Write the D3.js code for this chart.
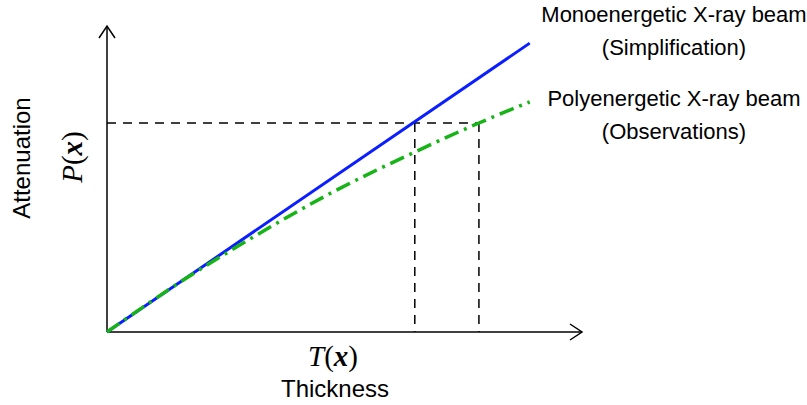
<!DOCTYPE html>
<html>
<head>
<meta charset="utf-8">
<script src="https://cdn.jsdelivr.net/npm/d3@7"></script>
<style>
  body { margin: 0; background: #fff; }
  text { font-family: "Liberation Sans", Arial, sans-serif; fill: #000; }
  .math { font-family: "Liberation Serif", "DejaVu Serif", serif; font-style: italic; }
</style>
</head>
<body>
<svg id="canvas"></svg>
<script>
let width = 807;
let height = 405;

// abstract units, 0..100 on both axes
let monoX = [0, 89];
let monoY = [0, 94.4];
let polyX = [0, 15.4, 30.1, 48.0, 64.8, 78.3, 89];
let polyY = [0, 16.3, 30.4, 46.1, 58.8, 68.3, 75.2];
let levelY = 68.3;
let markX = [64.8, 78.3];

let canvas = d3.select('#canvas')
    .attr('width', width)
    .attr('height', height);

let xScale = d3.scaleLinear().domain([0, 100]).range([107, 582]);
let yScale = d3.scaleLinear().domain([0, 100]).range([332, 26]);

let line = d3.line()
    .x(d => xScale(d[0]))
    .y(d => yScale(d[1]));

// axes with open arrow heads
let drawAxes = () => {
    let ox = xScale(0), oy = yScale(0);
    let ax = xScale(100), ay = yScale(100);
    canvas.append('line')
        .attr('x1', ox).attr('y1', oy).attr('x2', ax).attr('y2', oy)
        .attr('stroke', '#000').attr('stroke-width', 1.5);
    canvas.append('line')
        .attr('x1', ox).attr('y1', oy).attr('x2', ox).attr('y2', ay)
        .attr('stroke', '#000').attr('stroke-width', 1.5);
    canvas.append('path')
        .attr('d', `M${ax - 12},${oy - 8} L${ax},${oy} L${ax - 12},${oy + 8}`)
        .attr('fill', 'none').attr('stroke', '#000').attr('stroke-width', 1.5);
    canvas.append('path')
        .attr('d', `M${ox - 8},${ay + 12} L${ox},${ay} L${ox + 8},${ay + 12}`)
        .attr('fill', 'none').attr('stroke', '#000').attr('stroke-width', 1.5);
};

let drawGuides = () => {
    canvas.append('line')
        .attr('x1', xScale(0)).attr('x2', xScale(d3.max(markX)))
        .attr('y1', yScale(levelY)).attr('y2', yScale(levelY))
        .attr('stroke', '#000').attr('stroke-width', 1.5)
        .attr('stroke-dasharray', '9,7');
    canvas.selectAll('.mark')
        .data(markX)
        .enter()
        .append('line')
        .attr('class', 'mark')
        .attr('x1', d => xScale(d)).attr('x2', d => xScale(d))
        .attr('y1', yScale(levelY)).attr('y2', yScale(0))
        .attr('stroke', '#000').attr('stroke-width', 1.5)
        .attr('stroke-dasharray', '9,7');
};

let drawLines = () => {
    canvas.append('path')
        .datum(monoX.map((x, i) => [x, monoY[i]]))
        .attr('d', line)
        .attr('fill', 'none')
        .attr('stroke', '#0a1eff')
        .attr('stroke-width', 3);

    canvas.append('path')
        .datum(polyX.map((x, i) => [x, polyY[i]]))
        .attr('d', line.curve(d3.curveMonotoneX))
        .attr('fill', 'none')
        .attr('stroke', '#16b416')
        .attr('stroke-width', 3.5)
        .attr('stroke-dasharray', '15,6,3,6');
};

let drawLabels = () => {
    let t = (x, y, s, size) => canvas.append('text')
        .attr('x', x).attr('y', y)
        .attr('text-anchor', 'middle')
        .attr('font-size', size)
        .text(s);

    t(674, 22, 'Monoenergetic X-ray beam', 22);
    t(674, 55, '(Simplification)', 22);
    t(674, 106, 'Polyenergetic X-ray beam', 22);
    t(674, 139, '(Observations)', 22);
    t(335, 397, 'Thickness', 24);

    canvas.append('text')
        .attr('transform', 'translate(30,158) rotate(-90)')
        .attr('text-anchor', 'middle')
        .attr('font-size', 24)
        .text('Attenuation');

    let px = canvas.append('text')
        .attr('class', 'math')
        .attr('transform', 'translate(82,157) rotate(-90)')
        .attr('text-anchor', 'middle')
        .attr('font-size', 29);
    px.append('tspan').text('P');
    px.append('tspan').attr('font-style', 'normal').text('(');
    px.append('tspan').attr('font-weight', 'bold').text('x');
    px.append('tspan').attr('font-style', 'normal').text(')');

    let tx = canvas.append('text')
        .attr('class', 'math')
        .attr('x', 333).attr('y', 366)
        .attr('text-anchor', 'middle')
        .attr('font-size', 29);
    tx.append('tspan').text('T');
    tx.append('tspan').attr('font-style', 'normal').text('(');
    tx.append('tspan').attr('font-weight', 'bold').text('x');
    tx.append('tspan').attr('font-style', 'normal').text(')');
};

drawGuides();
drawAxes();
drawLines();
drawLabels();
</script>
</body>
</html>
